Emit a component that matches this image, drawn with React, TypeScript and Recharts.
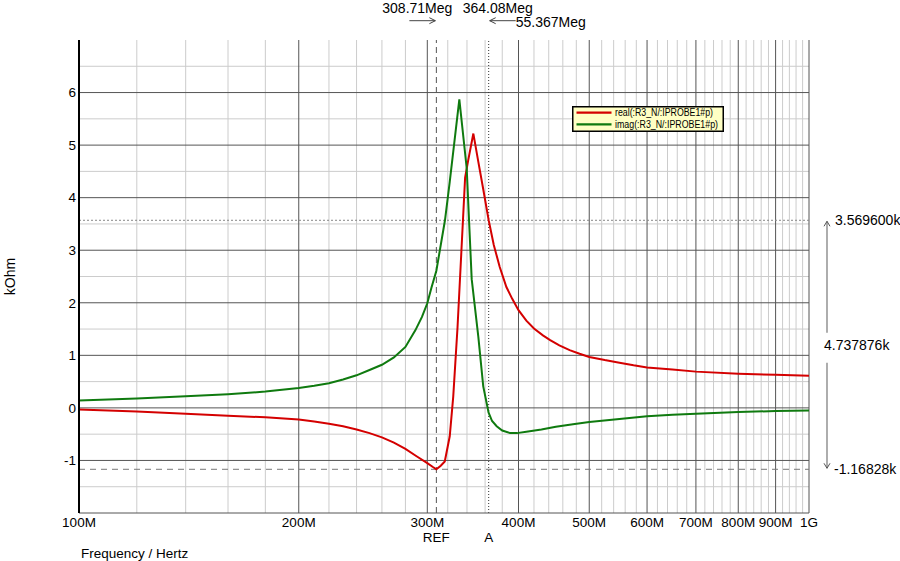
import React from 'react';
import {
  LineChart,
  Line,
  XAxis,
  YAxis,
  CartesianGrid,
  ReferenceLine,
  ReferenceArea,
  Legend,
} from 'recharts';

const FONT = "'Liberation Sans', Arial, Helvetica, sans-serif";

// ---- data (frequency in MHz, value in kOhm) ----
const realFreq = [
  100, 120, 140, 160, 180, 200, 210, 220, 230, 240, 250, 260, 270, 280, 290,
  300, 305, 308.71, 313, 317, 322, 325.6, 330, 334, 338, 341.4, 346.9, 352,
  358, 364.08, 370, 377, 385, 392, 400, 410, 420, 432, 442, 455, 470, 485, 500,
  525, 550, 575, 600, 650, 700, 800, 900, 1000,
];
const realVals = [
  -0.03, -0.07, -0.11, -0.15, -0.18, -0.22, -0.26, -0.3, -0.35, -0.41, -0.48,
  -0.56, -0.66, -0.78, -0.92, -1.05, -1.12, -1.168, -1.1, -1.02, -0.54, 0.22,
  1.53, 2.96, 4.38, 4.72, 5.22, 4.72, 4.15, 3.57, 3.1, 2.68, 2.3, 2.08, 1.86,
  1.66, 1.51, 1.38, 1.29, 1.19, 1.1, 1.03, 0.97, 0.91, 0.86, 0.81, 0.77, 0.73,
  0.69, 0.65, 0.63, 0.61,
];
const imagFreq = [
  100, 120, 140, 160, 180, 200, 210, 220, 230, 240, 250, 260, 270, 280, 289,
  295, 300, 304, 308.7, 317.2, 322, 331.9, 339.7, 345.1, 352.4, 357.9, 364,
  368, 373.4, 380, 389.5, 398, 410, 430, 450, 475, 500, 550, 600, 650, 700, 800,
  900, 1000,
];
const imagVals = [
  0.14, 0.18, 0.22, 0.26, 0.31, 0.38, 0.42, 0.47, 0.54, 0.62, 0.72, 0.82, 0.96,
  1.16, 1.48, 1.73, 1.99, 2.29, 2.61, 3.57, 4.3, 5.87, 4.56, 2.45, 1.35, 0.41,
  -0.09, -0.25, -0.35, -0.43, -0.48, -0.48, -0.455, -0.41, -0.36, -0.31, -0.27,
  -0.21, -0.16, -0.13, -0.11, -0.08, -0.06, -0.05,
];

const seriesNames = ['real(:R3_N/:IPROBE1#p)', 'imag(:R3_N/:IPROBE1#p)'];
const seriesColors = ['#d40000', '#0f7a0f'];

// ---- axes ----
const xMajorTicks = [100, 200, 300, 400, 500, 600, 700, 800, 900, 1000];
const xTickLabels = ['100M', '200M', '300M', '400M', '500M', '600M', '700M', '800M', '900M', '1G'];
const xMinorTicks = [
  120, 140, 160, 180, 220, 240, 260, 280, 320, 340, 360, 380, 420, 440, 460,
  480, 520, 540, 560, 580, 620, 640, 660, 680, 720, 740, 760, 780, 820, 840,
  860, 880, 920, 940, 960, 980,
];
const yTicks = [-1, 0, 1, 2, 3, 4, 5, 6];
const yMinorTicks = [-1.5, -0.5, 0.5, 1.5, 2.5, 3.5, 4.5, 5.5, 6.5];
const xAxisTitle = 'Frequency / Hertz';
const yAxisTitle = 'kOhm';

// ---- cursors ----
const cursorRefFreq = 308.71;
const cursorAFreq = 364.08;
const cursorRefValue = -1.16828;
const cursorAValue = 3.5696;
const cursorRefText = '308.71Meg';
const cursorAText = '364.08Meg';
const cursorDeltaFreqText = '55.367Meg';
const cursorAValueText = '3.569600k';
const cursorDeltaValueText = '4.737876k';
const cursorRefValueText = '-1.16828k';
const cursorRefName = 'REF';
const cursorAName = 'A';

const realData = realFreq.map((f, i) => ({ f, v: realVals[i] }));
const imagData = imagFreq.map((f, i) => ({ f, v: imagVals[i] }));

const ARROW = '#444';

const RefCursorLabel = (props: any) => {
  const vb = props.viewBox || {};
  const x = vb.x;
  const top = vb.y;
  const bottom = vb.y + vb.height;
  const ay = top - 19.3;
  return (
    <g>
      <text x={x + 16} y={top - 26.7} textAnchor="end" fontSize={14} fontFamily={FONT} fill="#000">
        {cursorRefText}
      </text>
      <line x1={x - 27} y1={ay} x2={x - 1} y2={ay} stroke={ARROW} strokeWidth={1} />
      <path d={`M${x - 7},${ay - 3} L${x - 1},${ay} L${x - 7},${ay + 3}`} fill="none" stroke={ARROW} strokeWidth={1} />
      <text x={x} y={bottom + 29} textAnchor="middle" fontSize={13.5} fontFamily={FONT} fill="#000">
        {cursorRefName}
      </text>
    </g>
  );
};

const ACursorLabel = (props: any) => {
  const vb = props.viewBox || {};
  const x = vb.x;
  const top = vb.y;
  const bottom = vb.y + vb.height;
  const ay = top - 19.3;
  return (
    <g>
      <text x={x - 26} y={top - 26.7} textAnchor="start" fontSize={14} fontFamily={FONT} fill="#000">
        {cursorAText}
      </text>
      <line x1={x + 1} y1={ay} x2={x + 27} y2={ay} stroke={ARROW} strokeWidth={1} />
      <path d={`M${x + 7},${ay - 3} L${x + 1},${ay} L${x + 7},${ay + 3}`} fill="none" stroke={ARROW} strokeWidth={1} />
      <text x={x + 27} y={top - 13.3} textAnchor="start" fontSize={14} fontFamily={FONT} fill="#000">
        {cursorDeltaFreqText}
      </text>
      <text x={x} y={bottom + 29} textAnchor="middle" fontSize={13.5} fontFamily={FONT} fill="#000">
        {cursorAName}
      </text>
    </g>
  );
};

const DeltaLabel = (props: any) => {
  const vb = props.viewBox || {};
  const ax = vb.x + vb.width + 18;
  const top = vb.y;
  const bot = vb.y + vb.height;
  const mid = (top + bot) / 2;
  return (
    <g>
      <line x1={ax} y1={top + 1} x2={ax} y2={mid - 12} stroke="#777" strokeWidth={1.2} />
      <line x1={ax} y1={mid + 18} x2={ax} y2={bot - 1} stroke="#777" strokeWidth={1.2} />
      <path d={`M${ax - 3},${top + 6} L${ax},${top + 1} L${ax + 3},${top + 6}`} fill="none" stroke="#555" strokeWidth={1} />
      <path d={`M${ax - 3},${bot - 6} L${ax},${bot - 1} L${ax + 3},${bot - 6}`} fill="none" stroke="#555" strokeWidth={1} />
      <text x={ax + 8} y={top + 5} fontSize={14} fontFamily={FONT} fill="#000">
        {cursorAValueText}
      </text>
      <text x={ax - 3} y={mid + 5} fontSize={14} fontFamily={FONT} fill="#000">
        {cursorDeltaValueText}
      </text>
      <text x={ax + 7} y={bot + 5} fontSize={14} fontFamily={FONT} fill="#000">
        {cursorRefValueText}
      </text>
    </g>
  );
};

const XTitle = (props: any) => {
  const vb = props.viewBox || {};
  return (
    <text x={vb.x + 2} y={vb.y + vb.height - 3} fontSize={13.5} fontFamily={FONT} fill="#000">
      {xAxisTitle}
    </text>
  );
};

const YTitle = (props: any) => {
  const vb = props.viewBox || {};
  const cx = vb.x + 10;
  const cy = vb.y + vb.height / 2;
  return (
    <text
      x={cx}
      y={cy}
      transform={`rotate(-90 ${cx} ${cy})`}
      textAnchor="middle"
      dominantBaseline="central"
      fontSize={14}
      fontFamily={FONT}
      fill="#000"
    >
      {yAxisTitle}
    </text>
  );
};

const legendTextLengths = [98, 103];

const LegendBox = (props: any) => {
  const payload = (props.payload || []).slice();
  const items = seriesNames.map((name, i) => {
    const found = payload.find((p: any) => p.value === name);
    return { name, color: (found && found.color) || seriesColors[i] };
  });
  return (
    <svg width={152} height={26} style={{ display: 'block', overflow: 'visible' }}>
      <rect x={0.75} y={0.75} width={150.5} height={24.5} fill="#ffffc4" stroke="#000" strokeWidth={1.5} />
      {items.map((it, i) => {
        const cy = 6.7 + 11.6 * i;
        return (
          <g key={it.name}>
            <line x1={4.5} x2={39.5} y1={cy} y2={cy} stroke={it.color} strokeWidth={2.2} />
            <text
              x={43}
              y={cy + 3.6}
              fontSize={10}
              fontFamily={FONT}
              fill="#000"
              textLength={legendTextLengths[i]}
              lengthAdjust="spacingAndGlyphs"
            >
              {it.name}
            </text>
          </g>
        );
      })}
    </svg>
  );
};

export default function App() {
  return (
    <div style={{ position: 'absolute', left: 0, top: 0, width: 900, height: 561, background: '#fff' }}>
      <LineChart width={900} height={561} margin={{ top: 40, right: 91, bottom: 0, left: 0 }}>
        <CartesianGrid stroke="#cccccc" strokeWidth={1} horizontalValues={yMinorTicks} verticalValues={xMinorTicks} />
        <CartesianGrid stroke="#555" strokeWidth={1} horizontalValues={yTicks} verticalValues={xMajorTicks} />
        <XAxis
          dataKey="f"
          type="number"
          scale="log"
          domain={[100, 1000]}
          allowDataOverflow
          ticks={xMajorTicks}
          interval={0}
          tickFormatter={(v: number) => xTickLabels[xMajorTicks.indexOf(v)] ?? String(v)}
          tickSize={0}
          tickMargin={4}
          height={48}
          axisLine={{ stroke: '#555', strokeWidth: 1 }}
          tick={{ fill: '#000', fontSize: 13.5, fontFamily: FONT }}
          label={XTitle}
        />
        <YAxis
          type="number"
          domain={[-2, 7]}
          allowDataOverflow
          ticks={yTicks}
          interval={0}
          width={79}
          tickSize={0}
          tickMargin={3}
          axisLine={{ stroke: '#000', strokeWidth: 2 }}
          tick={{ fill: '#000', fontSize: 13.5, fontFamily: FONT }}
          label={YTitle}
        />
        <ReferenceLine y={cursorAValue} stroke="#888" strokeWidth={1} strokeDasharray="2 2" />
        <ReferenceLine y={cursorRefValue} stroke="#777" strokeWidth={1} strokeDasharray="6 5" />
        <ReferenceLine x={cursorRefFreq} stroke="#555" strokeWidth={1} strokeDasharray="6 4" label={RefCursorLabel} />
        <ReferenceLine x={cursorAFreq} stroke="#333" strokeWidth={1} strokeDasharray="1 2" label={ACursorLabel} />
        <ReferenceArea y1={cursorRefValue} y2={cursorAValue} fill="none" stroke="none" label={DeltaLabel} />
        <Line
          data={realData}
          dataKey="v"
          name={seriesNames[0]}
          type="linear"
          stroke={seriesColors[0]}
          strokeWidth={2}
          dot={false}
          activeDot={false}
          isAnimationActive={false}
        />
        <Line
          data={imagData}
          dataKey="v"
          name={seriesNames[1]}
          type="linear"
          stroke={seriesColors[1]}
          strokeWidth={2}
          dot={false}
          activeDot={false}
          isAnimationActive={false}
        />
        <Legend
          layout="horizontal"
          verticalAlign="middle"
          align="center"
          wrapperStyle={{ left: 572, top: 106, width: 152, height: 26 }}
          content={LegendBox}
        />
      </LineChart>
    </div>
  );
}
